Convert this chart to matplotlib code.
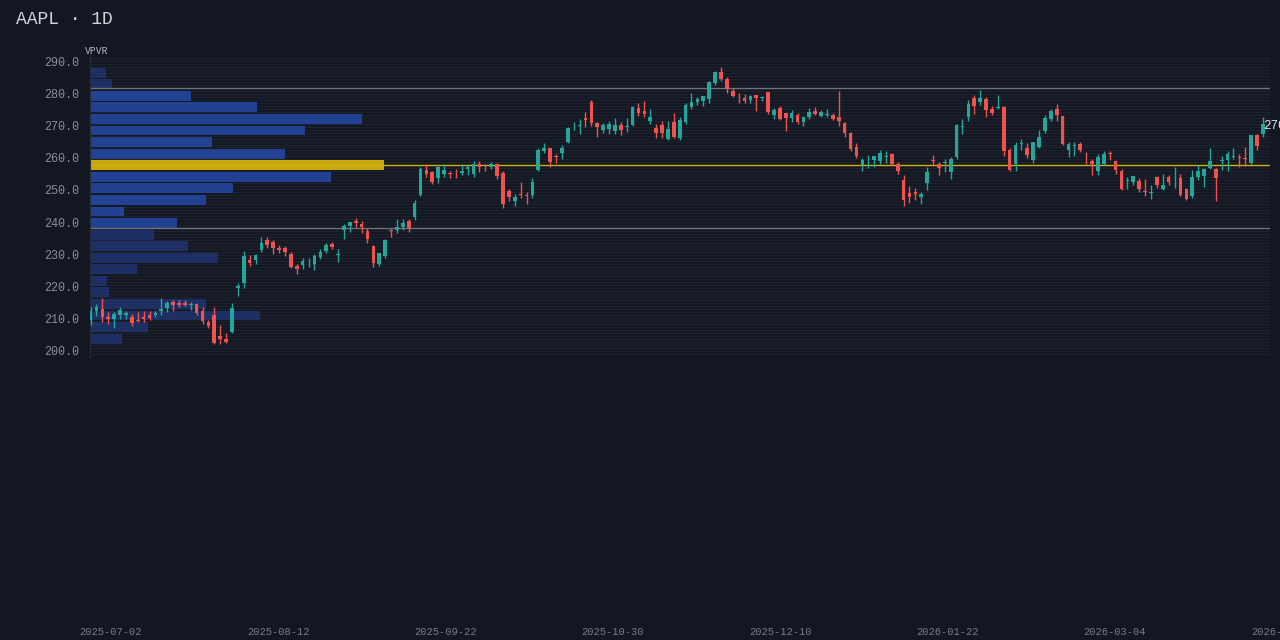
import matplotlib
matplotlib.use("Agg")
import matplotlib.pyplot as plt
from matplotlib.transforms import blended_transform_factory
import numpy as np

# OHLC rows (open, high, low, close)
ohlc = [
(209.5,213.5,208.0,212.5),(212.4,214.5,210.8,213.6),(213.0,216.3,209.0,210.4),(210.5,212.0,208.5,210.0),
(209.8,212.0,207.0,211.5),(211.0,213.5,210.0,212.7),(211.0,212.5,210.0,211.7),(210.4,211.5,207.8,208.8),
(209.6,212.0,209.0,209.4),(210.5,212.5,209.0,210.0),(211.2,212.5,209.5,210.2),(211.2,212.3,210.5,211.7),
(212.4,216.3,211.0,213.0),(213.2,215.5,212.0,214.8),(215.3,215.8,212.5,214.3),(214.8,215.8,213.5,214.3),
(215.0,215.8,213.8,214.1),(214.3,215.2,212.8,214.5),(214.5,215.0,211.0,211.7),(212.4,213.5,208.5,209.4),
(208.9,209.5,207.0,207.8),(211.2,213.5,202.0,202.4),(204.5,208.0,202.0,203.8),(203.8,205.5,202.6,202.9),
(206.0,215.0,205.5,213.2),(219.5,221.0,217.0,220.2),(221.2,231.0,219.5,229.5),(228.2,229.8,226.5,227.4),
(228.2,230.0,227.0,229.8),(231.4,235.3,230.8,233.4),(234.4,235.3,232.0,232.9),(233.9,234.5,230.0,232.1),
(231.9,233.0,230.5,231.3),(231.8,232.5,229.5,230.8),(230.1,230.8,225.8,226.2),(226.4,227.0,224.0,225.3),
(226.7,229.0,225.5,227.9),(227.2,229.0,226.0,227.4),(227.0,230.0,225.0,229.5),(229.1,231.5,228.5,230.6),
(231.1,233.5,230.5,232.9),(233.1,233.8,231.5,232.2),(229.8,231.5,227.5,230.1),(237.6,239.3,234.7,238.8),
(238.8,240.0,237.0,239.9),(240.3,241.4,238.5,239.8),(239.4,240.2,236.5,238.4),(237.2,238.3,233.5,234.7),
(232.6,233.0,226.0,227.2),(227.0,230.5,226.5,230.3),(229.5,234.8,229.0,234.5),(237.6,238.0,235.5,237.3),
(237.6,241.0,236.5,238.4),(238.6,241.0,237.5,239.6),(240.4,241.0,237.0,238.1),(241.7,246.8,240.5,245.8),
(248.4,257.0,248.0,256.5),(256.2,258.0,254.0,254.8),(255.7,256.0,251.8,252.6),(253.6,257.5,252.0,257.2),
(254.8,258.0,254.0,256.3),(255.1,255.8,253.8,254.9),(255.3,256.5,253.8,255.1),(255.3,258.0,254.5,255.8),
(256.5,257.8,254.5,257.1),(254.9,259.0,254.0,258.2),(258.2,259.0,255.5,257.2),(257.2,258.0,256.0,257.0),
(257.0,258.8,256.5,258.2),(258.0,258.3,253.5,254.3),(255.3,255.8,244.5,245.6),(249.8,250.3,246.5,247.9),
(246.5,248.8,245.0,247.9),(248.8,252.5,247.5,248.5),(248.4,249.5,245.5,248.2),(248.4,253.8,247.5,252.6),
(256.2,263.0,255.8,262.4),(262.2,264.6,261.5,262.9),(262.9,263.0,257.0,258.8),(260.4,261.0,258.5,260.2),
(261.5,264.0,259.5,262.9),(265.0,269.5,264.5,269.1),(269.4,271.0,268.5,269.6),(269.8,272.0,267.5,270.0),
(272.2,274.2,269.5,271.7),(277.4,277.8,270.0,270.9),(270.7,271.0,266.5,269.4),(268.6,270.8,267.8,270.3),
(269.0,271.5,267.5,270.4),(268.3,272.2,267.5,270.1),(270.1,271.0,267.0,268.6),(269.4,272.2,268.0,269.8),
(270.1,276.0,269.8,275.6),(275.5,277.0,273.0,274.0),(274.5,277.5,272.5,273.5),(271.5,275.0,270.5,272.7),
(269.3,270.5,266.0,267.8),(270.1,271.5,266.0,267.8),(265.8,271.5,265.5,268.9),(271.1,274.0,266.0,266.3),
(266.0,272.5,265.5,271.7),(271.2,277.0,270.5,276.4),(275.6,280.0,275.0,277.4),(277.4,279.0,276.5,278.1),
(277.7,279.3,276.0,279.1),(278.1,283.8,277.0,283.6),(283.1,287.0,282.5,286.7),(286.7,288.2,283.8,284.3),
(284.6,285.0,280.0,281.2),(280.8,281.7,279.0,279.1),(278.6,280.0,277.0,278.4),(278.6,279.9,277.0,277.6),
(277.9,279.5,277.0,279.1),(279.4,279.6,274.5,278.4),(278.6,279.3,277.5,278.6),(280.5,280.5,273.6,274.3),
(273.2,275.5,272.0,274.8),(275.5,276.0,271.6,271.9),(273.8,274.0,268.2,272.4),(272.4,274.8,271.0,274.0),
(273.2,274.0,270.5,271.2),(271.2,273.0,269.8,272.5),(272.7,275.3,272.0,274.3),(274.6,275.6,273.2,273.5),
(273.0,274.8,272.5,274.3),(273.4,275.0,272.5,273.5),(273.2,273.8,271.8,272.0),(272.7,280.8,270.0,271.5),
(270.8,271.2,266.5,267.8),(267.6,268.0,262.0,262.7),(263.4,264.5,260.0,260.5),(257.7,259.8,256.0,259.3),
(259.8,260.8,256.8,259.9),(259.3,260.5,257.0,260.5),(259.0,262.3,258.2,261.6),(260.3,262.0,258.5,260.3),
(261.0,261.5,257.8,258.2),(258.0,258.7,255.0,256.0),(253.1,254.6,245.0,246.9),(249.1,251.3,245.8,247.9),
(249.4,250.5,247.0,248.7),(247.7,249.3,245.5,248.6),(252.0,257.0,250.0,255.6),(259.3,260.8,257.5,259.0),
(258.0,258.6,254.7,256.9),(258.4,259.5,255.5,258.5),(255.7,260.3,253.5,259.6),(260.1,270.5,259.6,270.1),
(269.6,272.0,267.5,269.7),(272.5,278.0,271.5,276.6),(278.6,279.6,273.5,276.0),(277.2,281.0,276.5,278.4),
(278.2,278.8,272.6,274.8),(275.2,276.0,273.3,273.9),(275.4,279.4,275.0,275.6),(275.8,276.0,260.6,262.2),
(262.4,263.0,255.8,256.2),(258.2,265.0,255.8,264.1),(264.2,265.8,262.5,264.4),(263.1,264.5,260.0,260.8),
(259.3,265.0,258.5,264.8),(263.4,268.6,263.0,266.3),(268.3,273.2,267.6,272.2),(272.0,275.2,271.5,274.6),
(275.1,276.8,271.4,273.2),(272.9,273.0,263.8,264.4),(262.4,265.0,260.3,264.4),(263.6,264.8,260.5,263.7),
(264.4,265.0,261.8,262.4),(261.3,261.8,258.0,261.0),(259.0,259.5,254.6,257.9),(256.0,261.0,254.5,260.1),
(258.0,262.2,257.8,261.0),(261.3,262.2,259.3,261.2),(259.0,259.2,254.8,256.2),(256.0,256.5,250.0,250.3),
(252.8,254.0,250.3,252.9),(252.6,254.4,251.5,254.2),(252.8,253.8,249.2,250.2),(249.8,253.5,248.0,249.5),
(249.0,251.5,247.3,249.2),(254.0,254.3,250.5,251.5),(250.3,254.8,250.0,251.5),(254.0,254.5,251.4,252.4),
(252.3,257.0,250.5,252.5),(253.8,255.0,248.2,248.4),(250.2,250.5,246.8,247.1),(248.1,256.2,247.5,253.9),
(254.1,257.8,253.0,256.0),(254.4,256.8,250.8,256.4),(256.9,263.0,256.5,259.0),(256.5,256.8,246.4,253.8),
(259.0,260.5,256.3,259.3),(259.3,262.0,256.0,261.0),(260.3,263.0,259.5,260.5),(260.3,261.0,257.0,260.0),
(260.0,263.2,257.5,259.6),(258.5,267.0,258.2,266.9),(267.0,267.5,262.3,263.6),(267.5,272.5,266.5,270.4),
]
# volume profile (bottom bin to top bin)
vp_volume = [32,58,170,116,19,17,47,128,98,64,87,34,116,143,241,294,195,122,215,272,167,101,22,16]
vah, val = 281.6, 238.2
yticks = [200, 210, 220, 230, 240, 250, 260, 270, 280, 290]
date_labels = ["2025-07-02","2025-08-12","2025-09-22","2025-10-30","2025-12-10",
               "2026-01-22","2026-03-04","2026-04-15"]

BG = "#131722"
UP, DN = "#26a69a", "#ef5350"
MONO = "Liberation Mono"
o = np.array([r[0] for r in ohlc]); h = np.array([r[1] for r in ohlc])
l = np.array([r[2] for r in ohlc]); c = np.array([r[3] for r in ohlc])
n = len(ohlc); x = np.arange(n)

fig = plt.figure(figsize=(12.8, 6.4), dpi=100, facecolor=BG)
rect = [90/1280, 1-357/640, 1180/1280, 302/640]
axv = fig.add_axes(rect)
axv.set_facecolor(BG)
ax = fig.add_axes(rect)
ax.patch.set_visible(False)
ylo, yhi = 198.1, 291.9
axv.set_ylim(ylo, yhi)
ax.set_ylim(ylo, yhi)
ax.set_xlim(-0.1, n - 1 + 1.2)

# faint striping (under everything)
for p in np.arange(199, 292, 0.93):
    axv.axhline(p, color="#1f2330", lw=0.9, zorder=0)

# volume profile
axv.set_xlim(0, max(vp_volume) / 0.249)
lo_p, hi_p = l.min(), h.max()
nb = len(vp_volume)
edges = np.linspace(lo_p, hi_p, nb + 1)
bh = edges[1] - edges[0]
poc = int(np.argmax(vp_volume))
for i, v in enumerate(vp_volume):
    mid = (edges[i] + edges[i+1]) / 2
    if i == poc:
        col, a = "#c9a80f", 1.0
    elif val <= mid <= vah:
        col, a = "#2446a0", 0.9
    else:
        col, a = "#21367a", 0.75
    axv.barh(mid, v, height=bh * 0.85, left=0, color=col, alpha=a, zorder=1)
axv.set_xticks([]); axv.set_yticks([])
for s in axv.spines.values():
    s.set_visible(False)
poc_price = (edges[poc] + edges[poc+1]) / 2

ax.axhline(vah, color="#6e727c", lw=1, zorder=2)
ax.axhline(val, color="#6e727c", lw=1, zorder=2)
ax.axhline(poc_price, color="#d4b20c", lw=1, zorder=2)

# candles
cols = np.where(c >= o, UP, DN)
ax.vlines(x, l, h, colors=cols, lw=1, zorder=3)
ax.bar(x, np.maximum(np.abs(c - o), 0.25), bottom=np.minimum(o, c), width=0.62,
       color=cols, zorder=4)

ax.set_yticks(yticks)
ax.set_yticklabels([f"{t:.1f}" for t in yticks], family=MONO,
                   color="#8a8e98", fontsize=8.5)
ax.tick_params(axis="y", length=0, pad=8)
ax.set_xticks([])
for s in ax.spines.values():
    s.set_visible(False)
ax.spines["left"].set_visible(True)
ax.spines["left"].set_color("#2a2e39")

# last price
ax.text(n - 1 + 0.1, c[-1] - 0.6, f"{c[-1]:.1f}", color="#e0e3eb", fontsize=9,
        family=MONO, va="center", ha="left", zorder=6, clip_on=False)

tr = blended_transform_factory(ax.transData, fig.transFigure)
for k, lab in enumerate(date_labels):
    fig.text(3.45 + 28.4 * k, 1 - 632/640, lab, transform=tr, ha="center", va="center",
             color="#787c86", fontsize=7.5, family=MONO)

fig.text(16/1280, 1 - 20/640, "AAPL · 1D", color="#d1d4dc", fontsize=13,
         family=MONO, va="center", ha="left")
fig.text(85/1280, 1 - 51/640, "VPVR", color="#b2b5be", fontsize=7,
         family=MONO, va="center", ha="left")

fig.savefig("out.png", dpi=100, facecolor=BG)
